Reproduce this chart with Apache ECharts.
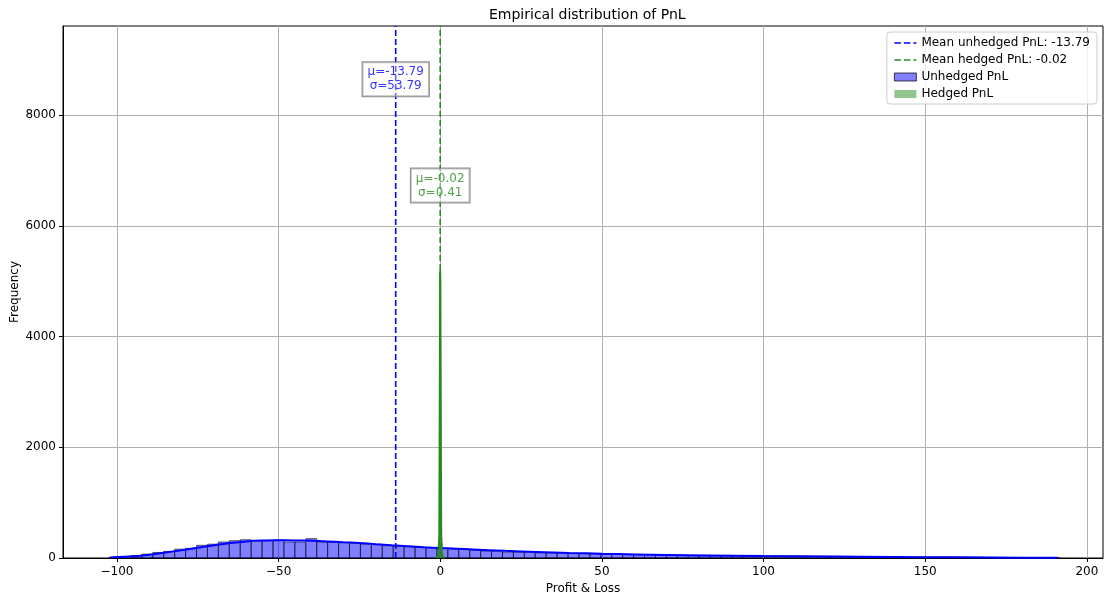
<!DOCTYPE html>
<html>
<head>
<meta charset="utf-8">
<script src="https://cdn.jsdelivr.net/npm/echarts@6/dist/echarts.min.js"></script>
<style>
  html, body { margin: 0; padding: 0; background: #fff; }
  #chart { width: 1105px; height: 599px; }
</style>
</head>
<body>
<div id="chart"></div>
<script>
// unhedged PnL histogram: equal bins starting at binStart
var binStart = -102.44;
var binWidth = 3.38;
var unhedgedCounts = [
  15, 25, 45, 70, 100, 120, 160, 175, 230, 250,
  290, 313, 330, 313, 313, 325, 290, 290, 350, 290,
  285, 277, 265, 253, 250, 222, 215, 205, 192, 190,
  180, 165, 160, 140, 128, 122, 108, 105, 100, 93,
  90, 86, 82, 79, 75, 72, 70, 66, 63, 61,
  58, 57, 55, 52, 50, 48, 47, 45, 43, 42,
  40, 38, 37, 35, 34, 32, 31, 29, 27, 26,
  24, 23, 22, 20, 19, 18, 17, 15, 14, 13,
  11, 10, 9, 8, 6, 5, 4
];
// smoothed density of unhedged PnL (scaled to counts)
var kdeX = [-102, -95, -90, -85, -80, -75, -70, -65, -60, -55, -50, -45, -40, -35, -30, -25, -20, -15, -10, -5, 0, 5, 10, 20, 30, 40, 50, 60, 70, 80, 100, 120, 140, 160, 180, 191];
var kdeY = [10, 30, 60, 100, 140, 185, 230, 270, 300, 315, 320, 318, 310, 300, 285, 270, 250, 230, 212, 195, 180, 168, 155, 130, 110, 92, 77, 65, 55, 47, 35, 26, 19, 12, 6, 4];

// hedged PnL histogram (very narrow around 0)
var hedgedEdges = [-1.5, -1.2, -0.9, -0.6, -0.3, 0, 0.3, 0.6, 0.9, 1.2, 1.5];
var hedgedCounts = [0, 5, 40, 300, 5150, 5050, 280, 35, 5, 0];
var hedgedKdeX = [-1.2, -0.6, -0.3, -0.02, 0.3, 0.6, 1.2];
var hedgedKdeY = [0, 40, 400, 5200, 400, 40, 0];

var meanUnhedged = -13.79, sdUnhedged = 53.79;
var meanHedged = -0.02, sdHedged = 0.41;

var xTicks = [-100, -50, 0, 50, 100, 150, 200];
var yTicks = [0, 2000, 4000, 6000, 8000];
var xMin = -116.7, xMax = 205;
var yMax = 9610;

var FONT = 'DejaVu Sans';
var BLUE = '#0000ff';
var GREEN = '#268a1e';

// dashed-line legend icon; tiny corner dots keep the box 22x8 so it is not stretched
var DASH_ICON = 'path://M0,3.2h6.5v1.6h-6.5z M9.5,3.2h6.5v1.6h-6.5z M19,3.2h3v1.6h-3z M0,0h0.01v0.01h-0.01z M21.99,7.99h0.01v0.01h-0.01z';

var unhedgedData = [];
for (var i = 0; i < unhedgedCounts.length; i++) {
  unhedgedData.push([binStart + i * binWidth, binStart + (i + 1) * binWidth, unhedgedCounts[i]]);
}
var hedgedData = [];
for (var j = 0; j < hedgedCounts.length; j++) {
  hedgedData.push([hedgedEdges[j], hedgedEdges[j + 1], hedgedCounts[j]]);
}
var kdeData = kdeX.map(function (x, k) { return [x, kdeY[k]]; });
var hedgedKde = hedgedKdeX.map(function (x, k) { return [x, hedgedKdeY[k]]; });

function histRender(fill, stroke) {
  return function (params, api) {
    var p0 = api.coord([api.value(0), api.value(2)]);
    var p1 = api.coord([api.value(1), 0]);
    return {
      type: 'rect',
      shape: { x: p0[0], y: p0[1], width: p1[0] - p0[0], height: p1[1] - p0[1] },
      style: { fill: fill, stroke: stroke, lineWidth: stroke ? 1 : 0 }
    };
  };
}

function minus(v) { return String(v).replace('-', '\u2212'); }

var labelBox = function (color) {
  return {
    show: true, position: 'inside', color: color, fontFamily: FONT, fontSize: 12,
    lineHeight: 14, align: 'center', verticalAlign: 'middle',
    backgroundColor: 'rgba(255,255,255,0.5)', borderColor: '#777', borderWidth: 1,
    padding: [3, 5, 3, 5],
    formatter: function (p) { return p.data.text; }
  };
};

var chart = echarts.init(document.getElementById('chart'));
chart.setOption({
  animation: false,
  textStyle: { fontFamily: FONT },
  title: {
    text: 'Empirical distribution of PnL',
    left: 484, top: 3,
    textStyle: { fontFamily: FONT, fontSize: 14, fontWeight: 'normal', color: '#000' }
  },
  grid: {
    left: 63, right: 2, top: 26, bottom: 41, outerBoundsMode: 'none', containLabel: false,
    show: true, borderColor: '#000', borderWidth: 1, backgroundColor: '#fff'
  },
  legend: {
    orient: 'vertical', right: 8, top: 32,
    padding: [5, 7, 4, 7], itemGap: 5, itemWidth: 22, itemHeight: 8,
    backgroundColor: 'rgba(255,255,255,0.8)', borderColor: '#ccc', borderWidth: 1, borderRadius: 3,
    textStyle: { fontFamily: FONT, fontSize: 12, color: '#000' },
    data: [
      { name: 'Mean unhedged PnL: -13.79', icon: DASH_ICON, itemStyle: { color: BLUE, borderWidth: 0 } },
      { name: 'Mean hedged PnL: -0.02', icon: DASH_ICON, itemStyle: { color: GREEN, borderWidth: 0 } },
      { name: 'Unhedged PnL', icon: 'rect', itemStyle: { color: 'rgba(0,0,255,0.5)', borderColor: 'rgba(0,0,0,0.7)', borderWidth: 1 } },
      { name: 'Hedged PnL', icon: 'rect', itemStyle: { color: 'rgba(34,139,34,0.5)', borderWidth: 0 } }
    ]
  },
  xAxis: {
    type: 'value', min: xMin, max: xMax,
    name: 'Profit & Loss', nameLocation: 'middle', nameGap: 25,
    nameTextStyle: { fontFamily: FONT, fontSize: 12, color: '#000' },
    axisLine: { onZero: false, lineStyle: { color: '#000', width: 1 } },
    axisTick: { show: true, length: 4, customValues: xTicks, lineStyle: { color: '#000' } },
    axisLabel: { customValues: xTicks, fontFamily: FONT, fontSize: 12, color: '#000', margin: 8, formatter: minus },
    splitLine: { show: true, lineStyle: { color: '#b0b0b0', width: 1 } }
  },
  yAxis: {
    type: 'value', min: 0, max: yMax,
    name: 'Frequency', nameLocation: 'middle', nameGap: 42, nameMoveOverlap: false,
    nameTextStyle: { fontFamily: FONT, fontSize: 12, color: '#000' },
    axisLine: { show: true, onZero: false, lineStyle: { color: '#000', width: 1 } },
    axisTick: { show: true, length: 4, customValues: yTicks, lineStyle: { color: '#000' } },
    axisLabel: { customValues: yTicks, fontFamily: FONT, fontSize: 12, color: '#000', margin: 7, formatter: function (v) { return String(v); } },
    splitLine: { show: true, lineStyle: { color: '#b0b0b0', width: 1 } }
  },
  series: [
    {
      name: 'Unhedged PnL', type: 'custom', z: 2,
      itemStyle: { color: 'rgba(0,0,255,0.5)' },
      renderItem: histRender('rgba(0,0,255,0.5)', 'rgba(0,0,0,0.55)'),
      encode: { x: [0, 1], y: 2 },
      data: unhedgedData
    },
    {
      name: 'Hedged PnL', type: 'custom', z: 2,
      itemStyle: { color: 'rgba(34,139,34,0.5)' },
      renderItem: histRender('rgba(34,139,34,0.5)', null),
      encode: { x: [0, 1], y: 2 },
      data: hedgedData
    },
    {
      name: 'kde unhedged', type: 'line', z: 3, symbol: 'none', smooth: 0.3,
      lineStyle: { color: BLUE, width: 2 }, data: kdeData
    },
    {
      name: 'kde hedged', type: 'line', z: 3, symbol: 'none',
      lineStyle: { color: GREEN, width: 2 }, data: hedgedKde
    },
    {
      name: 'Mean unhedged PnL: -13.79', type: 'line', z: 4, symbol: 'none',
      itemStyle: { color: BLUE },
      lineStyle: { color: BLUE, width: 1.6, type: [6, 3] },
      data: [[meanUnhedged, 0], [meanUnhedged, yMax]]
    },
    {
      name: 'Mean hedged PnL: -0.02', type: 'line', z: 4, symbol: 'none',
      itemStyle: { color: GREEN },
      lineStyle: { color: GREEN, width: 1.6, type: [6, 3] },
      data: [[meanHedged, 0], [meanHedged, yMax]]
    },
    {
      name: 'stats unhedged', type: 'scatter', z: 5, symbolSize: 0,
      label: labelBox(BLUE),
      data: [{ value: [meanUnhedged, yMax * 0.9], text: '\u03bc=' + meanUnhedged + '\n\u03c3=' + sdUnhedged }]
    },
    {
      name: 'stats hedged', type: 'scatter', z: 5, symbolSize: 0,
      label: labelBox(GREEN),
      data: [{ value: [meanHedged, yMax * 0.7], text: '\u03bc=' + meanHedged + '\n\u03c3=' + sdHedged }]
    }
  ]
});
</script>
</body>
</html>
